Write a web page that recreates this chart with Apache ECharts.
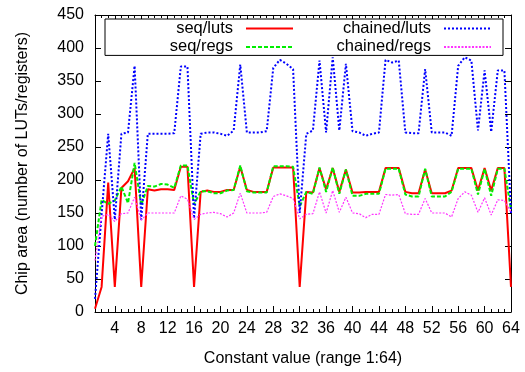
<!DOCTYPE html>
<html>
<head>
<meta charset="utf-8">
<script src="https://cdn.jsdelivr.net/npm/echarts@6/dist/echarts.min.js"></script>
<style>
    html, body { margin: 0; padding: 0; background: #fff; }
    #chart { width: 525px; height: 372px; }
</style>
</head>
<body>
<div id="chart"></div>
<script>
// constant values 1..64 (x axis)
const constValues = [1, 2, 3, 4, 5, 6, 7, 8, 9, 10, 11, 12, 13, 14, 15, 16,
    17, 18, 19, 20, 21, 22, 23, 24, 25, 26, 27, 28, 29, 30, 31, 32,
    33, 34, 35, 36, 37, 38, 39, 40, 41, 42, 43, 44, 45, 46, 47, 48,
    49, 50, 51, 52, 53, 54, 55, 56, 57, 58, 59, 60, 61, 62, 63, 64];

const seqLuts = [5, 38, 196, 38, 188, 198, 218, 38, 186, 184, 186, 186, 185, 220, 220, 38,
    182, 184, 182, 182, 185, 185, 220, 185, 182, 182, 182, 219, 219, 219, 219, 38,
    182, 181, 218, 186, 218, 182, 216, 181, 181, 182, 182, 182, 218, 218, 218, 182,
    180, 180, 216, 180, 180, 180, 184, 218, 218, 218, 184, 218, 184, 218, 218, 38];

const seqRegs = [100, 170, 164, 169, 190, 165, 226, 162, 191, 190, 194, 193, 188, 222, 222, 163,
    183, 183, 180, 180, 184, 185, 222, 183, 181, 181, 181, 221, 221, 221, 220, 160,
    182, 179, 219, 182, 219, 179, 216, 176, 176, 179, 179, 179, 217, 217, 217, 178,
    175, 175, 217, 175, 175, 175, 182, 217, 217, 217, 178, 217, 176, 217, 217, 155];

const chainedLuts = [20, 148, 270, 140, 270, 272, 373, 140, 270, 270, 270, 270, 271, 372, 372, 142,
    270, 272, 272, 270, 267, 275, 375, 272, 272, 272, 274, 370, 382, 376, 368, 150,
    270, 275, 381, 272, 386, 275, 376, 274, 272, 267, 270, 272, 382, 378, 381, 272,
    271, 271, 368, 272, 272, 272, 267, 373, 386, 381, 275, 366, 273, 366, 366, 150];

const chainedRegs = [78, 145, 148, 137, 149, 150, 174, 139, 150, 150, 150, 150, 150, 176, 171, 140,
    148, 150, 151, 149, 144, 150, 180, 150, 150, 150, 151, 175, 179, 176, 172, 141,
    148, 149, 182, 150, 184, 151, 174, 150, 149, 143, 148, 148, 178, 177, 178, 149,
    148, 148, 172, 150, 150, 150, 144, 172, 182, 177, 151, 173, 147, 170, 169, 151];

const xMajorTicks = [4, 8, 12, 16, 20, 24, 28, 32, 36, 40, 44, 48, 52, 56, 60, 64];

const FONT = "'Liberation Sans', Arial, sans-serif";

const chart = echarts.init(document.getElementById('chart'));

function pairs(vals) {
    return constValues.map((x, i) => [x, vals[i]]);
}

function tickAxis(position, values, len, showLine) {
    return {
        type: 'value',
        position: position,
        min: 1,
        max: 64,
        axisLine: { show: showLine, onZero: false, lineStyle: { color: '#000', width: 1 } },
        axisTick: { show: true, inside: true, length: len, customValues: values, lineStyle: { color: '#000' } },
        axisLabel: { show: false },
        splitLine: { show: false }
    };
}

const legendText = {
    rich: {
        t: {
            width: 110,
            align: 'right',
            fontFamily: FONT,
            fontSize: 16.5,
            color: '#000',
            lineHeight: 17,
            padding: [0, 8, 0, 0]
        }
    }
};

let option = {
    animation: false,
    backgroundColor: '#fff',
    grid: {
        left: 95,
        right: 14,
        top: 15,
        bottom: 60
    },
    legend: [{
        data: ['seq/luts', 'seq/regs'],
        orient: 'vertical',
        align: 'right',
        left: 105,
        top: 19,
        padding: [1, 209, 0, 18],
        itemWidth: 47,
        itemHeight: 14,
        itemGap: 1.4,
        itemStyle: { opacity: 0 }, // 只要线，不要圆点
        borderColor: '#000',
        borderWidth: 1,
        backgroundColor: '#fff',
        selectedMode: false,
        formatter: name => '{t|' + name + '}',
        textStyle: legendText
    }, {
        data: ['chained/luts', 'chained/regs'],
        orient: 'vertical',
        align: 'right',
        left: 321,
        top: 19,
        padding: [1, 0, 0, 0],
        itemWidth: 47,
        itemHeight: 14,
        itemGap: 1.4,
        itemStyle: { opacity: 0 },
        z: 6,
        selectedMode: false,
        formatter: name => '{t|' + name + '}',
        textStyle: legendText
    }],
    xAxis: [{
        type: 'value',
        position: 'bottom',
        min: 1,
        max: 64,
        name: 'Constant value (range 1:64)',
        nameLocation: 'middle',
        nameGap: 39,
        nameTextStyle: { fontFamily: FONT, fontSize: 16, color: '#000' },
        axisLine: { show: true, onZero: false, lineStyle: { color: '#000', width: 1 } },
        axisTick: { show: true, inside: true, length: 6, customValues: xMajorTicks, lineStyle: { color: '#000' } },
        axisLabel: { show: true, customValues: xMajorTicks, fontFamily: FONT, fontSize: 16, color: '#000', margin: 9 },
        splitLine: { show: false }
    },
        tickAxis('bottom', constValues, 3, false),
        tickAxis('top', xMajorTicks, 6, true),
        tickAxis('top', constValues, 3, false)
    ],
    yAxis: [{
        type: 'value',
        position: 'left',
        min: 0,
        max: 450,
        interval: 50,
        name: 'Chip area (number of LUTs/registers)',
        nameLocation: 'middle',
        nameGap: 64,
        nameTextStyle: { fontFamily: FONT, fontSize: 16, color: '#000' },
        axisLine: { show: true, lineStyle: { color: '#000', width: 1 } },
        axisTick: { show: true, inside: true, length: 6, lineStyle: { color: '#000' } },
        axisLabel: { fontFamily: FONT, fontSize: 16, color: '#000', margin: 11 },
        splitLine: { show: false }
    }, {
        type: 'value',
        position: 'right',
        min: 0,
        max: 450,
        interval: 50,
        axisLine: { show: true, lineStyle: { color: '#000', width: 1 } },
        axisTick: { show: true, inside: true, length: 6, lineStyle: { color: '#000' } },
        axisLabel: { show: false },
        splitLine: { show: false }
    }],
    series: [{
        name: 'seq/luts',
        type: 'line',
        symbol: 'none',
        data: pairs(seqLuts),
        color: '#ff0000',
        lineStyle: { color: '#ff0000', width: 2, type: 'solid' }
    }, {
        name: 'seq/regs',
        type: 'line',
        symbol: 'none',
        data: pairs(seqRegs),
        color: '#00ee00',
        lineStyle: { color: '#00ee00', width: 2, type: [4, 2] }
    }, {
        name: 'chained/luts',
        type: 'line',
        symbol: 'none',
        data: pairs(chainedLuts),
        color: '#0000ff',
        lineStyle: { color: '#0000ff', width: 2, type: [2, 2] }
    }, {
        name: 'chained/regs',
        type: 'line',
        symbol: 'none',
        data: pairs(chainedRegs),
        color: '#ff33ff',
        lineStyle: { color: '#ff33ff', width: 1.2, type: [2, 1.5] }
    }]
};

chart.setOption(option);
</script>
</body>
</html>
